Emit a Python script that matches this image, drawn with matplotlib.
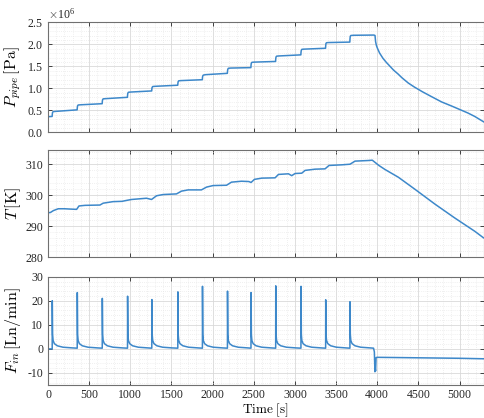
import matplotlib
matplotlib.use("Agg")
import matplotlib.pyplot as plt
from matplotlib.ticker import MultipleLocator, ScalarFormatter

plt.rcParams['font.family'] = 'serif'
plt.rcParams['font.serif'] = ['Liberation Serif', 'DejaVu Serif']
plt.rcParams['mathtext.fontset'] = 'cm'
plt.rcParams['axes.unicode_minus'] = False

# ---------------- data ----------------
# Pipe pressure [Pa]
t_p = [0, 50, 52, 55, 62, 90, 354,
       356, 359, 366, 395, 658,
       660, 663, 670, 700, 965,
       967, 970, 977, 1005, 1260,
       1262, 1265, 1272, 1300, 1576,
       1578, 1581, 1588, 1615, 1875,
       1877, 1880, 1887, 1915, 2179,
       2181, 2184, 2191, 2220, 2465,
       2467, 2470, 2477, 2505, 2765,
       2767, 2770, 2777, 2805, 3072,
       3074, 3077, 3084, 3110, 3372,
       3374, 3377, 3384, 3410, 3667,
       3669, 3672, 3679, 3710, 3960, 3973,
       3980, 3989, 4000, 4029, 4070, 4110, 4150, 4200, 4250, 4300,
       4377, 4450, 4550, 4650, 4782, 4900, 5000, 5100, 5185, 5291]
p_pipe = [0.355e6, 0.36e6, 0.40e6, 0.45e6, 0.47e6, 0.475e6, 0.51e6,
          0.56e6, 0.60e6, 0.62e6, 0.625e6, 0.65e6,
          0.70e6, 0.74e6, 0.76e6, 0.765e6, 0.795e6,
          0.85e6, 0.89e6, 0.91e6, 0.915e6, 0.94e6,
          0.99e6, 1.02e6, 1.04e6, 1.045e6, 1.07e6,
          1.11e6, 1.15e6, 1.17e6, 1.175e6, 1.195e6,
          1.25e6, 1.28e6, 1.30e6, 1.31e6, 1.34e6,
          1.39e6, 1.43e6, 1.455e6, 1.46e6, 1.47e6,
          1.53e6, 1.57e6, 1.59e6, 1.595e6, 1.61e6,
          1.67e6, 1.71e6, 1.73e6, 1.735e6, 1.76e6,
          1.82e6, 1.86e6, 1.886e6, 1.89e6, 1.91e6,
          1.97e6, 2.02e6, 2.036e6, 2.04e6, 2.05e6,
          2.12e6, 2.18e6, 2.20e6, 2.205e6, 2.21e6, 2.20e6,
          2.06e6, 1.98e6, 1.92e6, 1.80e6, 1.68e6, 1.59e6, 1.51e6, 1.41e6, 1.33e6, 1.24e6,
          1.12e6, 1.03e6, 0.92e6, 0.82e6, 0.69e6, 0.60e6, 0.52e6, 0.44e6, 0.36e6, 0.24e6]

# Temperature [K]
t_T = [0, 30, 65, 125, 200, 267, 348, 376, 450, 631, 670, 790, 900, 955,
       1015, 1197, 1258, 1319, 1400, 1561, 1622, 1703, 1864, 1926, 2006,
       2169, 2229, 2350, 2440, 2467, 2508, 2597, 2759, 2800, 2921, 2961,
       3002, 3083, 3123, 3245, 3366, 3414, 3568, 3669, 3730, 3892, 3940,
       3973, 4020, 4094, 4256, 4458, 4701, 4943, 5186, 5291]
temp = [294.3, 294.4, 295.0, 295.6, 295.6, 295.5, 295.4, 296.5, 296.7, 296.8,
        297.4, 297.9, 298.0, 298.3, 298.6, 299.0, 298.6, 299.8, 300.2, 300.4,
        301.3, 301.7, 301.7, 302.6, 303.1, 303.2, 304.2, 304.5, 304.4, 304.1,
        305.1, 305.5, 305.6, 306.7, 306.9, 306.3, 307.0, 307.1, 308.0, 308.4,
        308.5, 309.6, 309.8, 310.0, 311.0, 311.2, 311.3, 310.6, 309.6, 308.3,
        305.8, 301.9, 297.1, 292.6, 288.3, 286.2]

# Inlet flow [Ln/min]
t_f = [0, 51, 52, 56, 62, 77, 112, 182, 302,
       355, 356, 360, 366, 381, 416, 486, 606,
       659, 660, 664, 670, 685, 720, 790, 910,
       966, 967, 971, 977, 992, 1027, 1097, 1217,
       1261, 1262, 1266, 1272, 1287, 1322, 1392, 1512,
       1577, 1578, 1582, 1588, 1603, 1638, 1708, 1828,
       1876, 1877, 1881, 1887, 1902, 1937, 2007, 2127,
       2180, 2181, 2185, 2191, 2206, 2241, 2311, 2431,
       2466, 2467, 2471, 2477, 2492, 2527, 2597, 2717,
       2766, 2767, 2771, 2777, 2792, 2827, 2897, 3017,
       3073, 3074, 3078, 3084, 3099, 3134, 3204, 3324,
       3373, 3374, 3378, 3384, 3399, 3434, 3504, 3624,
       3668, 3669, 3673, 3679, 3694, 3729, 3799, 3919,
       3955, 3965, 3972, 3976, 3980, 3986, 4000, 4500, 5000, 5291]
flow = [0.0, 0.0, 20.0, 6.0, 3.5, 2.2, 1.3, 0.7, 0.4,
        0.3, 23.4, 6.0, 3.5, 2.2, 1.3, 0.7, 0.4,
        0.3, 21.0, 6.0, 3.5, 2.2, 1.3, 0.7, 0.4,
        0.3, 21.9, 6.0, 3.5, 2.2, 1.3, 0.7, 0.4,
        0.3, 20.5, 6.0, 3.5, 2.2, 1.3, 0.7, 0.4,
        0.3, 23.7, 6.0, 3.5, 2.2, 1.3, 0.7, 0.4,
        0.3, 26.0, 6.0, 3.5, 2.2, 1.3, 0.7, 0.4,
        0.3, 24.0, 6.0, 3.5, 2.2, 1.3, 0.7, 0.4,
        0.3, 23.4, 6.0, 3.5, 2.2, 1.3, 0.7, 0.4,
        0.3, 26.2, 6.0, 3.5, 2.2, 1.3, 0.7, 0.4,
        0.3, 26.0, 6.0, 3.5, 2.2, 1.3, 0.7, 0.4,
        0.3, 20.4, 6.0, 3.5, 2.2, 1.3, 0.7, 0.4,
        0.3, 19.6, 6.0, 3.5, 2.2, 1.3, 0.7, 0.4,
        0.3, -1.2, -9.5, -8.3, -9.2, -3.6, -3.5, -3.7, -3.9, -4.1]

# ---------------- figure ----------------
fig = plt.figure(figsize=(4.84, 4.18), dpi=100)
W, H = 484.0, 418.0
left, right = 48.0, 483.5
panels = [(22.3, 132.3), (150.3, 257.0), (276.7, 385.0)]
axes = []
for top, bot in panels:
    ax = fig.add_axes([left / W, 1 - bot / H, (right - left) / W, (bot - top) / H])
    axes.append(ax)

line_color = '#3d88ca'
spine_color = '#707070'

def style(ax):
    ax.set_xlim(0, 5291)
    ax.xaxis.set_major_locator(MultipleLocator(500))
    ax.xaxis.set_minor_locator(MultipleLocator(100))
    ax.grid(True, which='major', color='#d9d9d9', lw=0.6)
    ax.grid(True, which='minor', color='#e2e2e2', lw=0.5, ls=(0, (1, 2)))
    ax.set_axisbelow(True)
    ax.tick_params(which='both', direction='in', top=True, right=True,
                   colors='#262626', labelsize=8.5, length=3, width=0.6)
    ax.tick_params(axis='x', pad=3)
    ax.tick_params(which='minor', length=0)
    for s in ax.spines.values():
        s.set_color(spine_color)
        s.set_linewidth(0.8)

ax1, ax2, ax3 = axes
ax1.plot(t_p, p_pipe, color=line_color, lw=1.1)
ax1.set_ylim(0, 2.5e6)
ax1.yaxis.set_major_locator(MultipleLocator(0.5e6))
ax1.yaxis.set_minor_locator(MultipleLocator(0.1e6))
fmt = ScalarFormatter(useMathText=True)
fmt.set_powerlimits((0, 0))
ax1.yaxis.set_major_formatter(fmt)
style(ax1)
ax1.yaxis.get_offset_text().set_fontsize(8.5)
ax1.set_xticklabels([])
ax1.set_ylabel(r'$P_{pipe}\,\mathrm{[Pa]}$', fontsize=11.5)

ax2.plot(t_T, temp, color=line_color, lw=1.1)
ax2.set_ylim(280, 314.5)
ax2.yaxis.set_major_locator(MultipleLocator(10))
ax2.yaxis.set_minor_locator(MultipleLocator(2))
style(ax2)
ax2.set_xticklabels([])
ax2.set_ylabel(r'$T\,\mathrm{[K]}$', fontsize=11.5)

ax3.plot(t_f, flow, color=line_color, lw=1.1)
ax3.set_ylim(-15, 30)
ax3.yaxis.set_major_locator(MultipleLocator(10))
ax3.yaxis.set_minor_locator(MultipleLocator(2))
style(ax3)
ax3.set_ylabel(r'$F_{in}\,\mathrm{[Ln/min]}$', fontsize=11.5)
ax3.set_xlabel(r'$\mathrm{Time\ [s]}$', fontsize=9.5, labelpad=0)

for ax in axes:
    ax.yaxis.set_label_coords(-0.057, 0.5)

fig.savefig('out.png', dpi=100)
